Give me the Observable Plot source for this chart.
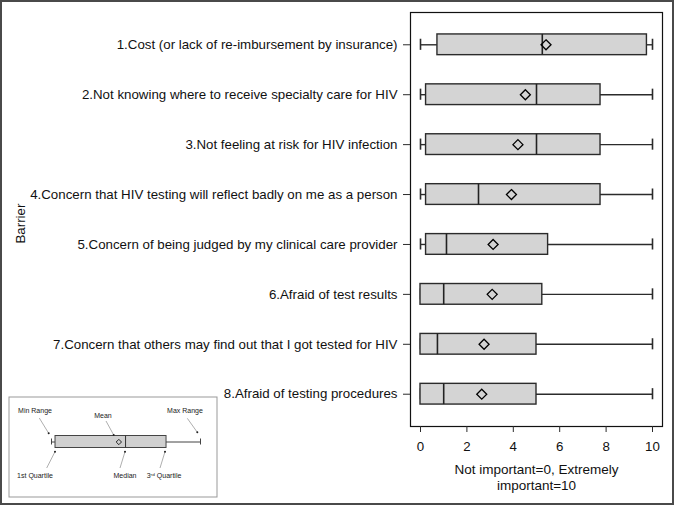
<!DOCTYPE html>
<html>
<head>
<meta charset="utf-8">
<script src="https://cdn.jsdelivr.net/npm/d3@7"></script>
<script src="https://cdn.jsdelivr.net/npm/@observablehq/plot@0.6"></script>
<style>
  body { margin: 0; background: #fff; }
  #wrap { position: relative; width: 674px; height: 505px; }
  #wrap svg { display: block; }
  #main svg { outline: 2px solid #4a4a4a; outline-offset: -2px; }
  #legend { position: absolute; left: 8px; top: 396px; }
</style>
</head>
<body>
<div id="wrap"><div id="main"></div><div id="legend"></div></div>
<script>
// ---- data ----
const barriers = [
  "1.Cost (or lack of re-imbursement by insurance)",
  "2.Not knowing where to receive specialty care for HIV",
  "3.Not feeling at risk for HIV infection",
  "4.Concern that HIV testing will reflect badly on me as a person",
  "5.Concern of being judged by my clinical care provider",
  "6.Afraid of test results",
  "7.Concern that others may find out that I got tested for HIV",
  "8.Afraid of testing procedures"
];
const minVals    = [0, 0, 0, 0, 0, 0, 0, 0];
const q1Vals     = [0.73, 0.24, 0.24, 0.24, 0.24, 0, 0, 0];
const medianVals = [5.25, 5.0, 5.0, 2.5, 1.12, 1.0, 0.73, 1.0];
const meanVals   = [5.41, 4.52, 4.2, 3.92, 3.13, 3.09, 2.74, 2.64];
const q3Vals     = [9.76, 7.76, 7.76, 7.76, 5.5, 5.25, 5.0, 5.0];
const maxVals    = [10, 10, 10, 10, 10, 10, 10, 10];
const xTicks = [0, 2, 4, 6, 8, 10];
const xLabel = "Not important=0, Extremely\nimportant=10";
const yLabel = "Barrier";

// legend sample boxplot
const legendCategory = ["sample"];
const legendMin = [0], legendQ1 = [0.27], legendMedian = [4.97], legendMean = [4.52], legendQ3 = [7.72], legendMax = [10];

const rows = barriers.map((b, i) => ({
  barrier: b, min: minVals[i], q1: q1Vals[i], median: medianVals[i],
  mean: meanVals[i], q3: q3Vals[i], max: maxVals[i]
}));

const font = '"Liberation Sans", Arial, Helvetica, sans-serif';
const dark = "#2b2b2b";

const main = Plot.plot({
  width: 674, height: 505,
  marginLeft: 410, marginRight: 12, marginTop: 12, marginBottom: 79,
  style: { fontFamily: font, fontSize: "13px", color: "#111", background: "#fff" },
  x: { domain: [0, 10], inset: 10 },
  y: { type: "band", domain: barriers, paddingInner: 0, paddingOuter: 0.147, round: false },
  marks: [
    Plot.frame({ stroke: "#111", strokeWidth: 1.2 }),
    Plot.axisX({ ticks: xTicks, tickSize: 6, tickPadding: 9, label: null, fontSize: 13.3, stroke: dark }),
    Plot.axisY({ tickSize: 7, tickPadding: 6, label: null, fontSize: 13.3, stroke: dark }),
    Plot.ruleY(rows, { y: "barrier", x1: "min", x2: "q1", stroke: dark, strokeWidth: 1.4 }),
    Plot.ruleY(rows, { y: "barrier", x1: "q3", x2: "max", stroke: dark, strokeWidth: 1.4 }),
    Plot.tickX(rows, { y: "barrier", x: "min", stroke: dark, strokeWidth: 1.6, insetTop: 19.4, insetBottom: 19.4 }),
    Plot.tickX(rows, { y: "barrier", x: "max", stroke: dark, strokeWidth: 1.6, insetTop: 19.4, insetBottom: 19.4 }),
    Plot.barX(rows, { y: "barrier", x1: "q1", x2: "q3", fill: "#d4d4d4", stroke: dark, strokeWidth: 1.4, insetTop: 14.6, insetBottom: 14.6 }),
    Plot.tickX(rows, { y: "barrier", x: "median", stroke: "#222", strokeWidth: 1.6, insetTop: 14.6, insetBottom: 14.6 }),
    Plot.dot(rows, { y: "barrier", x: "mean", symbol: "diamond2", r: 4.5, stroke: "#000", strokeWidth: 1.3, fill: "none" }),
    Plot.text([xLabel], { text: d => d, frameAnchor: "bottom", lineAnchor: "top", dy: 36, fontSize: 13.5, lineHeight: 1.2, fill: "#111" }),
    Plot.text([yLabel], { text: d => d, frameAnchor: "left", rotate: -90, dx: -390, dy: 24, fontSize: 13.3, fill: "#111" })
  ]
});
document.getElementById("main").appendChild(main);

// ---- legend inset ----
const lrows = legendCategory.map((c, i) => ({
  c, min: legendMin[i], q1: legendQ1[i], median: legendMedian[i], mean: legendMean[i], q3: legendQ3[i], max: legendMax[i]
}));
const legendPlot = Plot.plot({
  width: 209, height: 101, margin: 0,
  style: { fontFamily: font, background: "#fff", overflow: "visible" },
  x: { domain: [0, 10], range: [43, 192], axis: null },
  y: { type: "band", domain: legendCategory, range: [33.5, 57.5], padding: 0, round: false, axis: null },
  marks: [
    Plot.frame({ stroke: "#999", strokeWidth: 1, inset: 0.5 }),
    Plot.ruleY(lrows, { y: "c", x1: "min", x2: "q1", stroke: "#444", strokeWidth: 1 }),
    Plot.ruleY(lrows, { y: "c", x1: "q3", x2: "max", stroke: "#444", strokeWidth: 1 }),
    Plot.tickX(lrows, { y: "c", x: "min", stroke: "#444", strokeWidth: 1, insetTop: 9, insetBottom: 9 }),
    Plot.tickX(lrows, { y: "c", x: "max", stroke: "#444", strokeWidth: 1, insetTop: 9, insetBottom: 9 }),
    Plot.barX(lrows, { y: "c", x1: "q1", x2: "q3", fill: "#d0d0d0", stroke: "#444", strokeWidth: 1, insetTop: 6, insetBottom: 6 }),
    Plot.tickX(lrows, { y: "c", x: "median", stroke: "#333", strokeWidth: 1, insetTop: 6, insetBottom: 6 }),
    Plot.dot(lrows, { y: "c", x: "mean", symbol: "diamond2", r: 2.4, stroke: "#111", strokeWidth: 0.9, fill: "none" })
  ]
});
document.getElementById("legend").appendChild(legendPlot);

// legend annotations (label, label position, leader line, dot)
const ann = [
  { t: "Min Range",    lx: 27,  ly: 14.7, x1: 31.3,  y1: 22,   x2: 40.7,  y2: 37.3 },
  { t: "Mean",         lx: 95,  ly: 19.7, x1: 98,    y1: 25,   x2: 105.7, y2: 39 },
  { t: "Max Range",    lx: 177, ly: 14.7, x1: 179.3, y1: 22.3, x2: 189.3, y2: 36.3 },
  { t: "1st Quartile", lx: 27,  ly: 80,   x1: 38.7,  y1: 72,   x2: 47,    y2: 55.7 },
  { t: "Median",       lx: 117, ly: 80,   x1: 112,   y1: 72,   x2: 117,   y2: 55.7 },
  { t: "3ʳᵈ Quartile", lx: 156, ly: 80,   x1: 152,   y1: 72,   x2: 157,   y2: 55.7 }
];
const g = d3.select(legendPlot).append("g");
g.selectAll("line").data(ann).join("line")
  .attr("x1", d => d.x1).attr("y1", d => d.y1).attr("x2", d => d.x2).attr("y2", d => d.y2)
  .attr("stroke", "#777").attr("stroke-width", 0.6);
g.selectAll("circle").data(ann).join("circle")
  .attr("cx", d => d.x2).attr("cy", d => d.y2).attr("r", 1).attr("fill", "#222");
g.selectAll("text").data(ann).join("text")
  .attr("x", d => d.lx).attr("y", d => d.ly).attr("dy", "0.35em")
  .attr("text-anchor", "middle").attr("font-size", 7).attr("fill", "#222")
  .text(d => d.t);
</script>
</body>
</html>
